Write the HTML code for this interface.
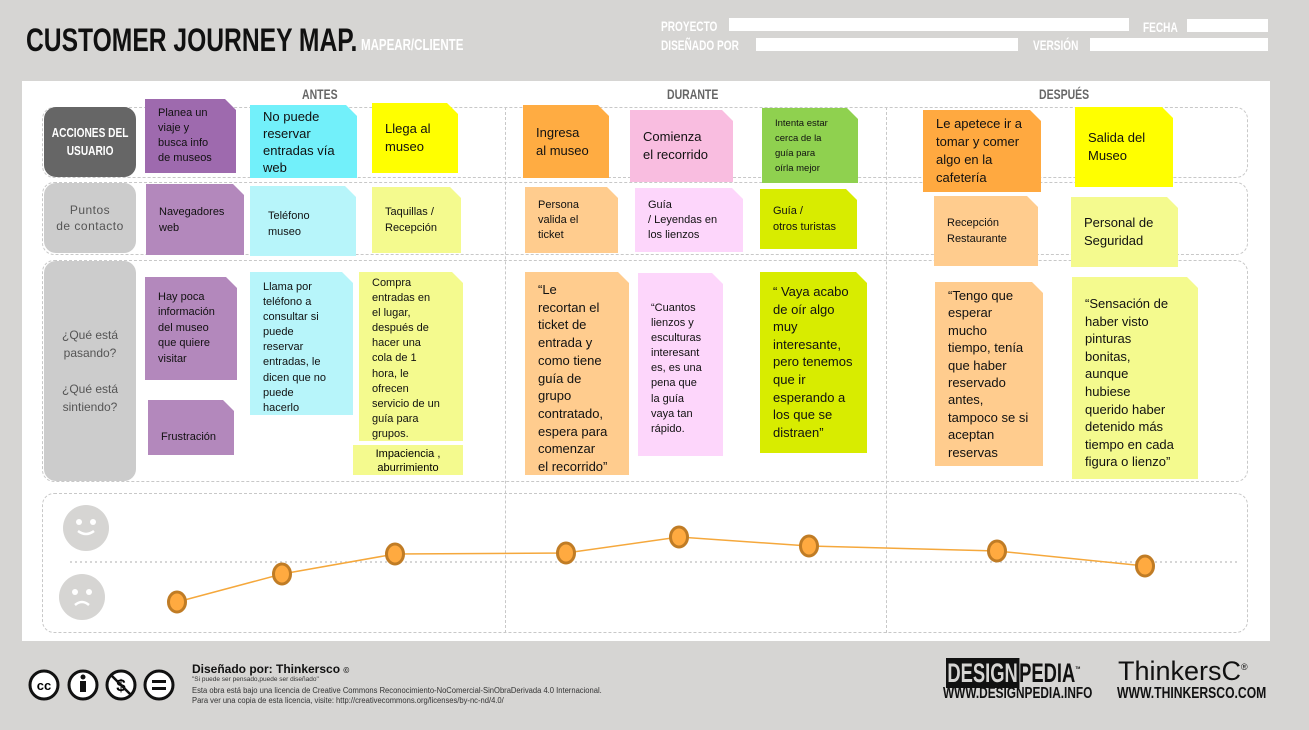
<!DOCTYPE html>
<html><head><meta charset="utf-8"><style>
*{margin:0;padding:0;box-sizing:border-box}
body{width:1309px;height:730px;background:#d6d5d3;position:relative;overflow:hidden;font-family:"Liberation Sans",sans-serif}
.a{position:absolute}
.cond{font-family:"Liberation Sans",sans-serif;font-weight:bold;transform-origin:0 0;white-space:nowrap}
.bar{position:absolute;background:#fff;height:13px}
.lbl{position:absolute;color:#fff;font-weight:bold;font-size:14px;transform:scaleX(.72);transform-origin:0 0;white-space:nowrap}
.row{position:absolute;border:1.5px dashed #c8c8c8;border-radius:12px}
.rl{position:absolute;border-radius:12px;display:flex;align-items:center;justify-content:center;text-align:center;white-space:nowrap}
.n{position:absolute;clip-path:polygon(0 0,calc(100% - 11px) 0,100% 11px,100% 100%,0 100%);padding:0 0 0 13px;display:flex;flex-direction:column;justify-content:center;color:#111;font-size:12px;line-height:16px;white-space:nowrap}
.t{justify-content:flex-start;padding-top:10px}
.h{position:absolute;top:86px;font-weight:bold;color:#666;font-size:14px;transform:scaleX(.75);transform-origin:0 0}
</style></head><body>
<div class="a cond" style="left:26px;top:22px;font-size:32px;color:#111;transform:scaleX(.77)">CUSTOMER JOURNEY MAP.</div>
<div class="a cond" style="left:361px;top:37px;font-size:16px;color:#fff;transform:scaleX(.72)">MAPEAR/CLIENTE</div>
<div class="lbl" style="left:661px;top:18px">PROYECTO</div><div class="bar" style="left:729px;top:18px;width:400px"></div>
<div class="lbl" style="left:1143px;top:19px">FECHA</div><div class="bar" style="left:1187px;top:19px;width:81px"></div>
<div class="lbl" style="left:661px;top:37px">DISEÑADO POR</div><div class="bar" style="left:756px;top:38px;width:262px"></div>
<div class="lbl" style="left:1033px;top:37px">VERSIÓN</div><div class="bar" style="left:1090px;top:38px;width:178px"></div>

<div class="a" style="left:22px;top:81px;width:1248px;height:560px;background:#fff"></div>
<div class="h" style="left:302px">ANTES</div>
<div class="h" style="left:667px">DURANTE</div>
<div class="h" style="left:1039px">DESPUÉS</div>

<div class="row" style="left:42px;top:107px;width:1206px;height:71px"></div>
<div class="row" style="left:42px;top:182px;width:1206px;height:73px"></div>
<div class="row" style="left:42px;top:260px;width:1206px;height:222px"></div>
<div class="row" style="left:42px;top:493px;width:1206px;height:140px"></div>
<div class="a" style="left:505px;top:107px;height:526px;border-left:1.5px dashed #c8c8c8"></div>
<div class="a" style="left:886px;top:107px;height:526px;border-left:1.5px dashed #c8c8c8"></div>

<div class="rl" style="left:44px;top:107px;width:92px;height:70px;background:#666;color:#fff;font-weight:bold;font-size:13px;line-height:18px"><span style="display:inline-block;transform:scaleX(.78)">ACCIONES DEL<br>USUARIO</span></div>
<div class="rl" style="left:44px;top:183px;width:92px;height:70px;background:#ccc;color:#555;font-size:12px;line-height:16px;letter-spacing:.5px">Puntos<br>de contacto</div>
<div class="rl" style="left:44px;top:261px;width:92px;height:220px;background:#ccc;color:#555;font-size:12px;line-height:18px">¿Qué está<br>pasando?<br><br>¿Qué está<br>sintiendo?</div>

<div class="n" style="left:145px;top:99px;width:91px;height:74px;background:#9e6aae;font-size:11px;line-height:15px">Planea un<br>viaje y<br>busca info<br>de museos</div>
<div class="n" style="left:250px;top:105px;width:107px;height:73px;background:#72f0fa;font-size:13px;line-height:17px">No puede<br>reservar<br>entradas vía<br>web</div>
<div class="n" style="left:372px;top:103px;width:86px;height:70px;background:#ffff00;font-size:13px;line-height:18px">Llega al<br>museo</div>
<div class="n" style="left:523px;top:105px;width:86px;height:73px;background:#ffac42;font-size:13px;line-height:18px">Ingresa<br>al museo</div>
<div class="n" style="left:630px;top:110px;width:103px;height:72px;background:#f9bde0;font-size:13px;line-height:18px">Comienza<br>el recorrido</div>
<div class="n" style="left:762px;top:108px;width:96px;height:75px;background:#8fd14f;font-size:9.5px;line-height:15px">Intenta estar<br>cerca de la<br>guía para<br>oírla mejor</div>
<div class="n" style="left:923px;top:110px;width:118px;height:82px;background:#ffa940;font-size:13px;line-height:18px">Le apetece ir a<br>tomar y comer<br>algo en la<br>cafetería</div>
<div class="n" style="left:1075px;top:107px;width:98px;height:80px;background:#ffff00;font-size:13px;line-height:18px">Salida del<br>Museo</div>

<div class="n" style="left:146px;top:184px;width:98px;height:71px;background:#b388bc;font-size:11px">Navegadores<br>web</div>
<div class="n" style="left:250px;top:186px;width:106px;height:70px;background:#b7f5fa;font-size:11px;padding-left:18px;padding-top:6px">Teléfono<br>museo</div>
<div class="n" style="left:372px;top:187px;width:89px;height:66px;background:#f4fa8e;font-size:11px">Taquillas /<br>Recepción</div>
<div class="n" style="left:525px;top:187px;width:93px;height:66px;background:#ffcc8e;font-size:11px;line-height:15px">Persona<br>valida el<br>ticket</div>
<div class="n" style="left:635px;top:188px;width:108px;height:64px;background:#fdd6fb;font-size:11px;line-height:15px">Guía<br>/ Leyendas en<br>los lienzos</div>
<div class="n" style="left:760px;top:189px;width:97px;height:60px;background:#d8ec00;font-size:11px">Guía /<br>otros turistas</div>
<div class="n" style="left:934px;top:196px;width:104px;height:70px;background:#ffcc8e;font-size:11px">Recepción<br>Restaurante</div>
<div class="n" style="left:1071px;top:197px;width:107px;height:70px;background:#f4fa8e;font-size:13px;line-height:18px">Personal de<br>Seguridad</div>

<div class="n" style="left:145px;top:277px;width:92px;height:103px;background:#b388bc;font-size:11px;line-height:15.5px">Hay poca<br>información<br>del museo<br>que quiere<br>visitar</div>
<div class="n" style="left:148px;top:400px;width:86px;height:55px;background:#b388bc;font-size:11px;padding-top:18px">Frustración</div>
<div class="n t" style="left:250px;top:272px;width:103px;height:143px;background:#b7f5fa;font-size:11px;line-height:15.1px;padding-top:8px">Llama por<br>teléfono a<br>consultar si<br>puede<br>reservar<br>entradas, le<br>dicen que no<br>puede<br>hacerlo</div>
<div class="n t" style="left:359px;top:272px;width:104px;height:169px;background:#f4fa8e;font-size:11px;line-height:15.1px;padding-top:4px">Compra<br>entradas en<br>el lugar,<br>después de<br>hacer una<br>cola de 1<br>hora, le<br>ofrecen<br>servicio de un<br>guía para<br>grupos.</div>
<div class="a" style="left:353px;top:445px;width:110px;height:30px;background:#f4fa8e;font-size:11px;line-height:14px;text-align:center;padding-top:2px">Impaciencia ,<br>aburrimiento</div>
<div class="n t" style="left:525px;top:272px;width:104px;height:203px;background:#ffcc8e;font-size:13px;line-height:17.7px;padding-top:9px">“Le<br>recortan el<br>ticket de<br>entrada y<br>como tiene<br>guía de<br>grupo<br>contratado,<br>espera para<br>comenzar<br>el recorrido”</div>
<div class="n t" style="left:638px;top:273px;width:85px;height:183px;background:#fdd6fb;font-size:11px;line-height:15.1px;padding-top:28px">“Cuantos<br>lienzos y<br>esculturas<br>interesant<br>es, es una<br>pena que<br>la guía<br>vaya tan<br>rápido.</div>
<div class="n t" style="left:760px;top:272px;width:107px;height:181px;background:#d8ec00;font-size:13px;line-height:17.6px;padding-top:11px">“ Vaya acabo<br>de oír algo<br>muy<br>interesante,<br>pero tenemos<br>que ir<br>esperando a<br>los que se<br>distraen”</div>
<div class="n t" style="left:935px;top:282px;width:108px;height:184px;background:#ffcc8e;font-size:13px;line-height:17.4px;padding-top:5px">“Tengo que<br>esperar<br>mucho<br>tiempo, tenía<br>que haber<br>reservado<br>antes,<br>tampoco se si<br>aceptan<br>reservas</div>
<div class="n t" style="left:1072px;top:277px;width:126px;height:202px;background:#f4fa8e;font-size:13px;line-height:17.6px;padding-top:18px">“Sensación de<br>haber visto<br>pinturas<br>bonitas,<br>aunque<br>hubiese<br>querido haber<br>detenido más<br>tiempo en cada<br>figura o lienzo”</div>

<svg class="a" style="left:0;top:0" width="1309" height="730">
<line x1="70" y1="562" x2="1240" y2="562" stroke="#c8c8c8" stroke-width="1.5" stroke-dasharray="2,3"/>
<circle cx="86" cy="528" r="23" fill="#d6d5d3"/><circle cx="79" cy="522" r="3" fill="#fff"/><circle cx="93" cy="522" r="3" fill="#fff"/>
<path d="M78 531 Q86 537 94 531" stroke="#fff" stroke-width="2.5" fill="none"/>
<circle cx="82" cy="597" r="23" fill="#d6d5d3"/><circle cx="75" cy="592" r="3" fill="#fff"/><circle cx="89" cy="592" r="3" fill="#fff"/>
<path d="M75 605 Q82 599 89 605" stroke="#fff" stroke-width="2.5" fill="none"/>
<polyline points="177,602 282,574 395,554 566,553 679,537 809,546 997,551 1145,566" fill="none" stroke="#f5a83c" stroke-width="1.5"/>
<g fill="#ffaa40" stroke="#c07c25" stroke-width="3">
<ellipse cx="177" cy="602" rx="8.5" ry="10"/><ellipse cx="282" cy="574" rx="8.5" ry="10"/><ellipse cx="395" cy="554" rx="8.5" ry="10"/><ellipse cx="566" cy="553" rx="8.5" ry="10"/><ellipse cx="679" cy="537" rx="8.5" ry="10"/><ellipse cx="809" cy="546" rx="8.5" ry="10"/><ellipse cx="997" cy="551" rx="8.5" ry="10"/><ellipse cx="1145" cy="566" rx="8.5" ry="10"/></g>
<g fill="#fff" stroke="#111" stroke-width="3">
<circle cx="44" cy="685" r="14"/><circle cx="83" cy="685" r="14"/><circle cx="121" cy="685" r="14"/><circle cx="159" cy="685" r="14"/></g>
<text x="44" y="690" font-size="13" font-weight="bold" text-anchor="middle" font-family="Liberation Sans">cc</text>
<circle cx="83" cy="677" r="2.5" fill="#111"/><rect x="80" y="681" width="6" height="11" fill="#111"/>
<text x="121" y="691" font-size="17" font-weight="bold" text-anchor="middle" font-family="Liberation Sans">$</text>
<line x1="111" y1="675" x2="131" y2="695" stroke="#111" stroke-width="2.5"/>
<rect x="152" y="680" width="14" height="3" fill="#111"/><rect x="152" y="687" width="14" height="3" fill="#111"/>
</svg>
<div class="a" style="left:192px;top:662px;font-size:12px;font-weight:bold;color:#111">Diseñado por: Thinkersco <span style="font-size:8px">©</span></div>
<div class="a" style="left:192px;top:676px;font-size:6.5px;color:#333">"Si puede ser pensado,puede ser diseñado"</div>
<div class="a" style="left:192px;top:686px;font-size:8px;line-height:10px;color:#333;white-space:nowrap;transform:scaleX(.95);transform-origin:0 0">Esta obra está bajo una licencia de Creative Commons Reconocimiento-NoComercial-SinObraDerivada 4.0 Internacional.<br>Para ver una copia de esta licencia, visite: http://creativecommons.org/licenses/by-nc-nd/4.0/</div>
<div class="a cond" style="left:946px;top:658px;font-size:27px;color:#111;transform:scaleX(.68)"><span style="background:#111;color:#d6d5d3;padding:0 2px">DESIGN</span>PEDIA<sup style="font-size:8px">™</sup></div>
<div class="a cond" style="left:943px;top:685px;font-size:16px;color:#111;transform:scaleX(.74)">WWW.DESIGNPEDIA.INFO</div>
<div class="a" style="left:1118px;top:656px;font-size:27px;color:#111;white-space:nowrap">ThinkersC<sup style="font-size:9px">®</sup></div>
<div class="a cond" style="left:1117px;top:685px;font-size:16px;color:#111;transform:scaleX(.76)">WWW.THINKERSCO.COM</div>
</body></html>
